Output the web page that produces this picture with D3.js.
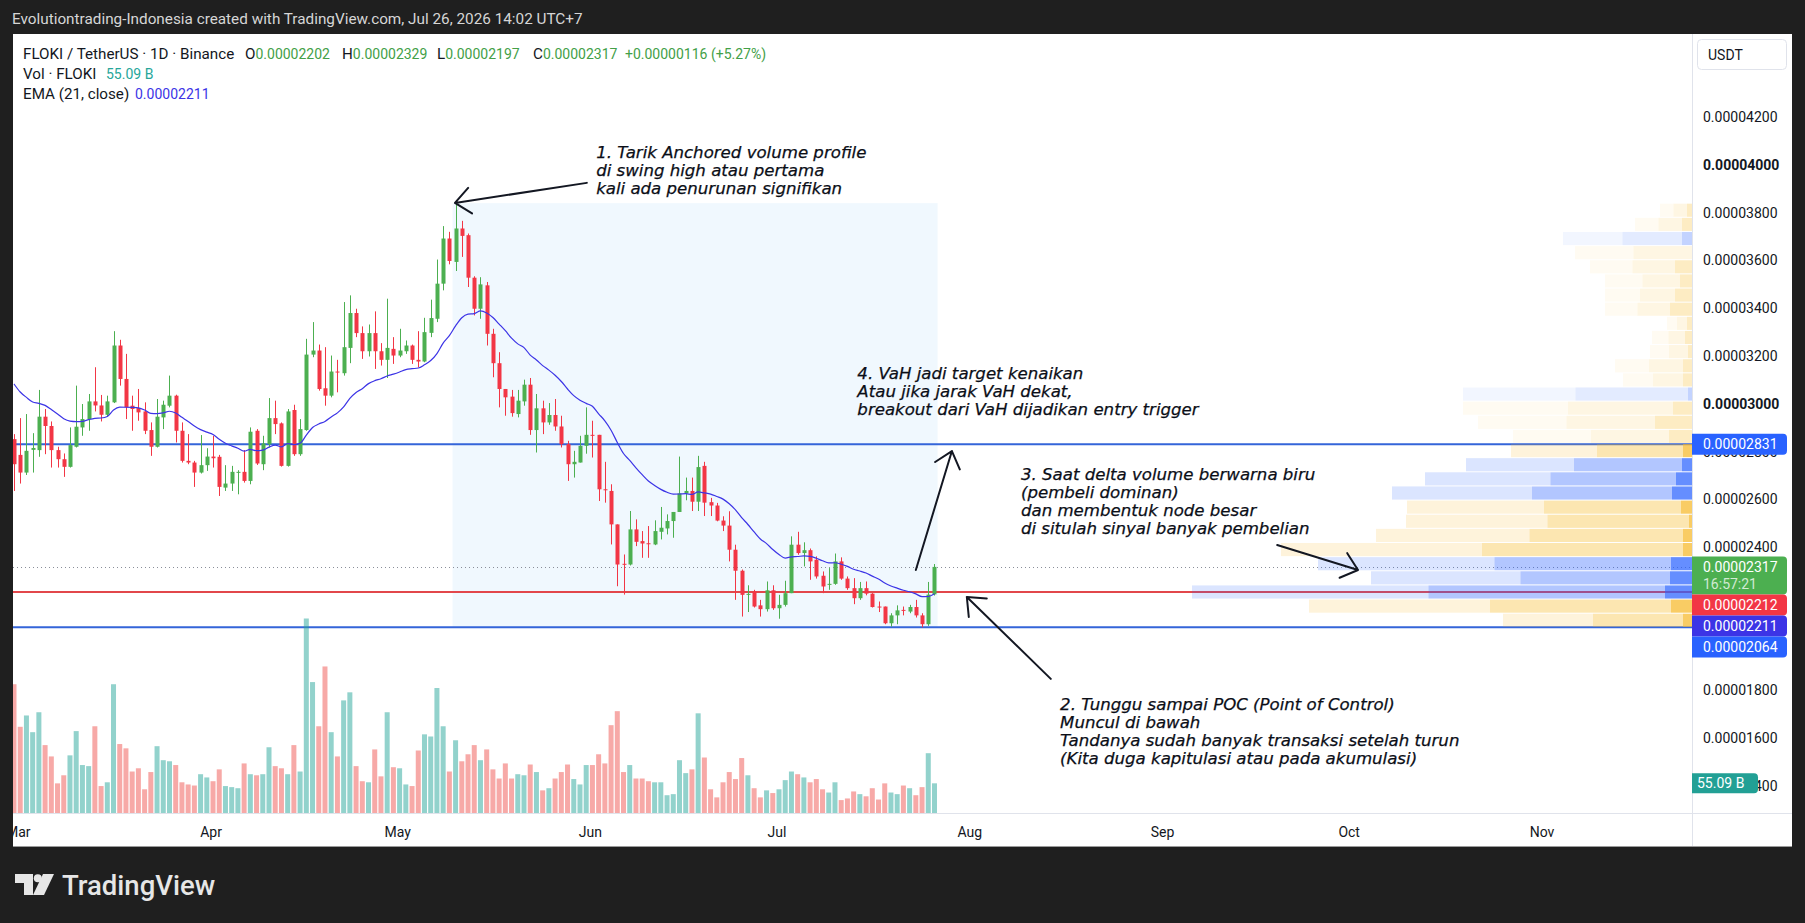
<!DOCTYPE html>
<html>
<head>
<meta charset="utf-8">
<script src="https://cdn.jsdelivr.net/npm/d3@7"></script>
<style>
    html, body { margin: 0; padding: 0; background: #1f1f1f; }
    svg { display: block; }
</style>
</head>
<body>
<svg id="chart"></svg>
<script>
// FLOKI/USDT daily candles, Feb 28 -> Jul 26 2026. Prices in 1e-8 USDT.
const opens = [2852,2786,2712,2807,2806,2946,2907,2806,2768,2736,2820,2901,2936,3010,2993,2954,3006,3244,3104,2992,
    2982,2968,2890,2820,2943,2992,3034,2887,2761,2754,2712,2743,2779,2778,2649,2666,2712,2715,2677,2887,
    2747,2831,2940,2918,2740,2974,2789,2890,3206,3223,3065,3034,3135,3128,3234,3380,3296,3220,3296,3220,
    3184,3230,3202,3220,3244,3184,3177,3297,3356,3503,3692,3594,3734,3706,3528,3398,3496,3293,3170,3062,
    3030,2957,3010,3080,2890,2981,2922,2953,2905,2831,2747,2754,2824,2870,2870,2642,2635,2495,2330,2327,
    2474,2425,2416,2411,2464,2478,2509,2547,2625,2635,2590,2740,2588,2574,2511,2490,2389,2301,2200,2214,
    2156,2140,2219,2144,2158,2207,2410,2375,2387,2347,2280,2242,2246,2340,2268,2228,2186,2228,2205,2151,
    2151,2081,2114,2137,2130,2149,2114,2077,2202];
const highs = [2873,2940,2957,2877,3058,2978,2926,2820,2792,2901,3076,2999,3041,3153,3037,3034,3304,3268,3209,3034,
    3062,3006,2922,3020,3013,3118,3038,2922,2873,2761,2869,2814,2866,2786,2743,2740,2722,2806,2901,2894,
    2866,3024,3013,2922,2978,2996,2936,3272,3342,3248,3237,3202,3184,3426,3454,3398,3324,3332,3387,3254,
    3440,3279,3314,3265,3248,3304,3360,3436,3604,3744,3720,3838,3766,3713,3534,3530,3510,3314,3216,3062,
    3058,3058,3101,3108,3041,3013,3003,3020,2950,2845,2803,2866,2985,2929,2870,2757,2663,2495,2369,2551,
    2516,2467,2488,2512,2568,2537,2547,2779,2691,2691,2782,2757,2606,2585,2529,2550,2410,2306,2240,2221,
    2179,2256,2240,2200,2259,2445,2464,2420,2394,2361,2298,2312,2373,2357,2277,2270,2254,2256,2207,2172,
    2151,2123,2156,2151,2158,2179,2123,2254,2329];
const lows = [2635,2666,2702,2712,2778,2789,2733,2733,2694,2733,2817,2866,2887,2968,2926,2946,3003,3076,2936,2887,
    2929,2873,2782,2817,2894,2985,2838,2754,2747,2652,2708,2719,2733,2614,2635,2635,2621,2670,2663,2744,
    2722,2817,2873,2737,2737,2782,2782,2887,3195,3055,2992,3027,3048,3118,3170,3279,3188,3198,3146,3160,
    3108,3167,3195,3209,3167,3153,3174,3279,3342,3475,3584,3556,3615,3489,3370,3356,3244,3111,2985,2950,
    2946,2943,2992,2870,2796,2873,2912,2887,2817,2677,2691,2754,2791,2775,2593,2586,2411,2236,2201,2323,
    2404,2355,2355,2408,2432,2453,2439,2547,2596,2551,2551,2530,2530,2508,2467,2340,2179,2109,2128,2147,
    2109,2130,2137,2100,2151,2207,2368,2319,2263,2268,2207,2221,2242,2263,2221,2161,2179,2198,2147,2128,
    2077,2067,2077,2114,2123,2105,2064,2070,2197];
const closes = [2747,2712,2803,2815,2946,2907,2806,2768,2736,2827,2904,2936,3010,2993,2954,3010,3244,3104,2985,2978,
    2964,2887,2820,2946,2996,3034,2887,2761,2754,2712,2743,2779,2772,2652,2666,2715,2715,2677,2883,2750,
    2834,2940,2915,2740,2968,2789,2894,3206,3223,3062,3034,3135,3131,3237,3380,3296,3220,3296,3220,3184,
    3234,3202,3223,3244,3184,3177,3300,3359,3503,3692,3598,3734,3703,3528,3398,3500,3293,3170,3062,3027,
    2961,3013,3080,2890,2981,2922,2953,2905,2831,2747,2757,2824,2870,2866,2642,2638,2495,2327,2327,2474,
    2422,2415,2412,2467,2481,2509,2547,2625,2635,2590,2735,2586,2574,2511,2490,2389,2301,2200,2204,2151,
    2140,2219,2144,2158,2207,2410,2375,2387,2340,2277,2235,2246,2340,2268,2228,2186,2228,2205,2149,2147,
    2081,2114,2135,2133,2149,2114,2077,2201,2317];
// volume in billions of FLOKI
const volumes = [239,160,181,150,187,126,105,55,70,107,152,89,87,161,50,57,239,128,120,77,
    83,44,76,124,98,96,89,57,53,51,72,66,59,81,50,48,46,92,72,70,
    72,122,87,83,72,126,77,361,243,161,272,150,105,209,224,87,59,57,118,68,
    187,85,83,53,50,116,146,142,232,161,77,135,96,109,126,98,118,81,64,92,
    64,72,70,90,76,42,46,64,76,90,63,53,89,89,109,92,163,189,76,89,
    64,64,59,57,57,33,35,98,74,81,185,103,44,29,57,76,63,102,70,46,
    29,42,37,44,61,77,72,66,57,63,44,38,57,24,27,40,35,31,46,25,
    55,38,35,51,46,33,48,111,55.09];
const emaSeed = 3083;          // EMA(21) value on the first visible bar
const emaLength = 21;

// anchored volume profile, rows from bottom (low) to top (high)
const vpLow = 2064, vpHigh = 3840;
const vpVolume = [189,383,500,321,374,411,316,286,285,300,267,226,181,179,214,229,229,69,77,42,40,25,87,87,87,102,117,129,57,32];
const vpDelta  = [9,21,27,22,21,9,9,3,11,20,16,10,9,23,37,19,4,9,9,4,7,5,22,17,12,17,0,10,10,5];
const vpSide   = ['s','s','b','b','b','s','s','s','s','b','b','b','s','s','s','s','b','s','s','s','s','s','s','s','s','s','s','b','s','s'];
const vah = 2831, val = 2064, poc = 2212;
const vpAnchor = 71;           // bar index of the swing high

// 2000 and 2200 sit fully behind the price labels, so they are left out
const priceTicks = [1400,1600,1800,2400,2600,2800,3000,3200,3400,3600,3800,4000,4200];
const boldTicks = [3000,4000];
const monthTicks = ['2026-03-01','2026-04-01','2026-05-01','2026-06-01','2026-07-01','2026-08-01','2026-09-01','2026-10-01','2026-11-01'];
const lastClose = 2317, emaLast = 2211;

const annotations = [
    { at: [93.6, 4029], lines: ['1. Tarik Anchored volume profile', 'di swing high atau pertama', 'kali ada penurunan signifikan'] },
    { at: [135.6, 3104], lines: ['4. VaH jadi target kenaikan', 'Atau jika jarak VaH dekat,', 'breakout dari VaH dijadikan entry trigger'] },
    { at: [161.9, 2681], lines: ['3. Saat delta volume berwarna biru', '(pembeli dominan)', 'dan membentuk node besar', 'di situlah sinyal banyak pembelian'] },
    { at: [168.2, 1718], lines: ['2. Tunggu sampai POC (Point of Control)', 'Muncul di bawah', 'Tandanya sudah banyak transaksi setelah turun', '(Kita duga kapitulasi atau pada akumulasi)'] },
];
const arrows = [
    { from: [92.1, 3925], to: [70.9, 3841] },
    { from: [145.0, 2304], to: [150.8, 2802] },
    { from: [203.1, 2409], to: [216.1, 2304] },
    { from: [166.7, 1848], to: [153.2, 2191] },
];

// ---------------------------------------------------------------
const W = 1805, H = 923;
const frame = { left: 13, top: 34, right: 1792, bottom: 847 };
const paneRight = 1692, paneBottom = 813;
const UP = '#4caf50', DOWN = '#f23645';
const EMA_COLOR = '#3c34e6';
const FONT = 'Roboto, "Liberation Sans", sans-serif';
const P = v => v * 1e-8;
const fmt = v => P(v).toFixed(8);

const t0 = Date.UTC(2026, 1, 28);
const dayAt = i => new Date(t0 + i * 864e5);
const dates = closes.map((_, i) => dayAt(i));

const x = d3.scaleUtc().domain([dayAt(0), new Date('2026-11-01')]).range([14, 1544]);
const y = d3.scaleLinear().domain([P(1400), P(4200)]).range([785.9, 117.2]);
const yVol = d3.scaleLinear().domain([0, d3.max(volumes)]).range([paneBottom, 618.5]);
const vpX = d3.scaleLinear().domain([0, d3.max(vpVolume)]).range([0, 500]);
const xi = i => x(dayAt(i));
const yp = v => y(P(v));

const svg = d3.select('#chart').attr('width', W).attr('height', H)
    .style('font-family', FONT);

svg.append('rect').attr('width', W).attr('height', H).attr('fill', '#1f1f1f');
svg.append('text')
    .attr('x', 12).attr('y', 24)
    .attr('font-size', 15.3).attr('fill', '#d6d6d6')
    .text('Evolutiontrading-Indonesia created with TradingView.com, Jul 26, 2026 14:02 UTC+7');

svg.append('rect')
    .attr('x', frame.left).attr('y', frame.top)
    .attr('width', frame.right - frame.left).attr('height', frame.bottom - frame.top)
    .attr('fill', '#fff');

const defs = svg.append('defs');
defs.append('clipPath').attr('id', 'pane')
    .append('rect').attr('x', frame.left).attr('y', frame.top)
    .attr('width', paneRight - frame.left).attr('height', paneBottom - frame.top);
defs.append('clipPath').attr('id', 'timeAxis')
    .append('rect').attr('x', frame.left).attr('y', paneBottom)
    .attr('width', paneRight - frame.left).attr('height', frame.bottom - paneBottom);

const pane = svg.append('g').attr('clip-path', 'url(#pane)');

// anchored VP range box
const lastIdx = closes.length - 1;
const barW = xi(1) - xi(0);
pane.append('rect')
    .attr('x', xi(vpAnchor) - barW / 2).attr('y', yp(vpHigh))
    .attr('width', xi(lastIdx) - xi(vpAnchor) + barW).attr('height', yp(vpLow) - yp(vpHigh))
    .attr('fill', 'rgba(33,150,243,0.065)');

// level lines
[[vah, '#3465d9'], [val, '#3465d9'], [poc, '#e2474b']].forEach(([v, c]) => {
    pane.append('line')
        .attr('x1', frame.left).attr('x2', paneRight)
        .attr('y1', yp(v)).attr('y2', yp(v))
        .attr('stroke', c).attr('stroke-width', 2);
});
pane.append('line')
    .attr('x1', frame.left).attr('x2', paneRight)
    .attr('y1', Math.round(yp(lastClose)) + 0.5).attr('y2', Math.round(yp(lastClose)) + 0.5)
    .attr('stroke', '#8a8e99').attr('stroke-width', 1).attr('stroke-dasharray', '1,3');

// volume profile rows
const rowStep = (vpHigh - vpLow) / vpVolume.length;
const shade = {
    b: [41, 98, 255],
    s: [247, 185, 40],
};
const vpG = pane.append('g');
vpVolume.forEach((vol, i) => {
    const lo = vpLow + i * rowStep, hi = lo + rowStep;
    const inVA = (lo + hi) / 2 <= vah && (lo + hi) / 2 >= val;
    const alphas = inVA ? [0.17, 0.36, 0.72] : [0.06, 0.13, 0.28];
    const xR = paneRight;
    const xL = xR - vpX(vol);
    const xD = xR - vpX(vpDelta[i]);
    const xM = (xL + xD) / 2;
    const y0 = yp(hi) + 0.5, h = yp(lo) - yp(hi) - 1;
    const [r, g, b] = shade[vpSide[i]];
    [[xL, xM], [xM, xD], [xD, xR]].forEach(([a, z], j) => {
        if (z - a <= 0) return;
        vpG.append('rect')
            .attr('x', a).attr('y', y0).attr('width', z - a).attr('height', h)
            .attr('fill', `rgba(${r},${g},${b},${alphas[j]})`);
    });
});

// volume bars
pane.append('g').selectAll('rect')
    .data(volumes)
    .join('rect')
    .attr('x', (_, i) => xi(i) - 2.5)
    .attr('y', d => yVol(d))
    .attr('width', 5)
    .attr('height', d => paneBottom - yVol(d))
    .attr('fill', (_, i) => closes[i] >= opens[i] ? 'rgba(38,166,154,0.5)' : 'rgba(239,83,80,0.5)');

// candles
const candles = pane.append('g').selectAll('g')
    .data(dates)
    .join('g')
    .attr('fill', (_, i) => closes[i] >= opens[i] ? UP : DOWN)
    .attr('stroke', (_, i) => closes[i] >= opens[i] ? UP : DOWN);
candles.append('line')
    .attr('x1', (_, i) => Math.round(xi(i)) + 0.5).attr('x2', (_, i) => Math.round(xi(i)) + 0.5)
    .attr('y1', (_, i) => yp(highs[i])).attr('y2', (_, i) => yp(lows[i]))
    .attr('stroke-width', 1);
candles.append('rect')
    .attr('x', (_, i) => Math.round(xi(i)) - 1.5)
    .attr('y', (_, i) => yp(Math.max(opens[i], closes[i])))
    .attr('width', 4)
    .attr('height', (_, i) => Math.max(1, yp(Math.min(opens[i], closes[i])) - yp(Math.max(opens[i], closes[i]))))
    .attr('stroke', 'none');

// EMA(21, close)
const k = 2 / (emaLength + 1);
const ema = [];
closes.forEach((c, i) => ema.push(i === 0 ? emaSeed : ema[i - 1] + k * (c - ema[i - 1])));
pane.append('path')
    .datum(ema)
    .attr('d', d3.line().x((_, i) => xi(i)).y(d => yp(d)).curve(d3.curveMonotoneX))
    .attr('fill', 'none').attr('stroke', EMA_COLOR).attr('stroke-width', 1.2);

// annotations
const ann = pane.append('g')
    .attr('font-family', '"DejaVu Sans", Verdana, sans-serif')
    .attr('font-style', 'italic').attr('font-size', 16.6).attr('fill', '#0b0e17')
    .attr('stroke', '#0b0e17').attr('stroke-width', 0.25);
annotations.forEach(a => {
    const t = ann.append('text').attr('x', xi(a.at[0])).attr('y', yp(a.at[1]));
    a.lines.forEach((s, j) => t.append('tspan').attr('x', xi(a.at[0])).attr('dy', j ? 17.9 : 0).text(s));
});
function arrowPath(x1, y1, x2, y2) {
    const a = Math.atan2(y1 - y2, x1 - x2), L = 20, s = 0.7;
    return `M${x1},${y1}L${x2},${y2}` +
        `M${x2 + L * Math.cos(a + s)},${y2 + L * Math.sin(a + s)}L${x2},${y2}L${x2 + L * Math.cos(a - s)},${y2 + L * Math.sin(a - s)}`;
}
pane.append('g').selectAll('path')
    .data(arrows)
    .join('path')
    .attr('d', d => arrowPath(xi(d.from[0]), yp(d.from[1]), xi(d.to[0]), yp(d.to[1])))
    .attr('fill', 'none').attr('stroke', '#131722').attr('stroke-width', 2)
    .attr('stroke-linecap', 'round').attr('stroke-linejoin', 'round');

// legend: labels a little larger than the numbers, as in the original font
const leg = svg.append('g').attr('font-size', 15.2).attr('fill', '#131722');
const NUM = 14;
leg.append('text').attr('x', 23).attr('y', 59).text('FLOKI / TetherUS · 1D · Binance');
const last = lastIdx;
const ohlc = [['O', opens[last], 245], ['H', highs[last], 342], ['L', lows[last], 437], ['C', closes[last], 533]];
ohlc.forEach(([lab, v, px]) => {
    const t = leg.append('text').attr('x', px).attr('y', 59);
    t.append('tspan').text(lab);
    t.append('tspan').attr('fill', '#43a047').attr('font-size', NUM).text(fmt(v));
});
const chg = closes[last] - closes[last - 1];
leg.append('text').attr('x', 625).attr('y', 59).attr('fill', '#43a047').attr('font-size', NUM)
    .text(`+${fmt(chg)} (+${(chg / closes[last - 1] * 100).toFixed(2)}%)`);
leg.append('text').attr('x', 23).attr('y', 79).text('Vol · FLOKI');
leg.append('text').attr('x', 106).attr('y', 79).attr('fill', '#26a69a').attr('font-size', NUM)
    .text(`${volumes[last].toFixed(2)} B`);
leg.append('text').attr('x', 23).attr('y', 99).text(`EMA (${emaLength}, close)`);
leg.append('text').attr('x', 135).attr('y', 99).attr('fill', EMA_COLOR).attr('font-size', NUM).text(fmt(emaLast));

// axes separators
svg.append('line').attr('x1', paneRight + 0.5).attr('x2', paneRight + 0.5)
    .attr('y1', frame.top).attr('y2', frame.bottom).attr('stroke', '#e0e3eb');
svg.append('line').attr('x1', frame.left).attr('x2', frame.right)
    .attr('y1', paneBottom + 0.5).attr('y2', paneBottom + 0.5).attr('stroke', '#e0e3eb');
svg.append('line').attr('x1', frame.left).attr('x2', frame.right)
    .attr('y1', frame.bottom - 0.5).attr('y2', frame.bottom - 0.5).attr('stroke', '#9a9a9a');

// price axis ticks
const yAxis = svg.append('g').attr('font-size', 14).attr('fill', '#131722');
yAxis.selectAll('text')
    .data(priceTicks)
    .join('text')
    .attr('x', 1703).attr('y', d => yp(d) + 5)
    .attr('font-weight', d => boldTicks.includes(d) ? 'bold' : null)
    .text(d => fmt(d));

// USDT box
svg.append('rect').attr('x', 1697.5).attr('y', 39.5).attr('width', 89).attr('height', 30).attr('rx', 4)
    .attr('fill', '#fff').attr('stroke', '#e0e3eb');
svg.append('text').attr('x', 1708).attr('y', 60).attr('font-size', 14).attr('fill', '#131722').text('USDT');

// price labels, stacked downward when they collide
const labels = [
    { v: vah, fill: '#2962ff' },
    { v: lastClose, fill: UP, sub: '16:57:21' },
    { v: poc, fill: DOWN },
    { v: emaLast, fill: EMA_COLOR },
    { v: val, fill: '#2962ff' },
].sort((a, b) => yp(a.v) - yp(b.v));
let prevBottom = -Infinity;
labels.forEach(l => {
    const h = l.sub ? 38 : 21;
    const top = Math.max(yp(l.v) - 10.5, prevBottom);
    prevBottom = top + h;
    svg.append('path')
        .attr('d', `M${paneRight},${top}H${1783}a4,4 0 0 1 4,4V${top + h - 4}a4,4 0 0 1 -4,4H${paneRight}Z`)
        .attr('fill', l.fill);
    svg.append('text').attr('x', 1703).attr('y', top + 15.5)
        .attr('font-size', 14).attr('fill', '#fff').text(fmt(l.v));
    if (l.sub) svg.append('text').attr('x', 1703).attr('y', top + 33)
        .attr('font-size', 14).attr('fill', 'rgba(255,255,255,0.75)').text(l.sub);
});
const vy = yVol(volumes[last]);
svg.append('path')
    .attr('d', `M${paneRight},${vy - 10}H${1754}a4,4 0 0 1 4,4V${vy + 6}a4,4 0 0 1 -4,4H${paneRight}Z`)
    .attr('fill', '#22a095');
svg.append('text').attr('x', 1697).attr('y', vy + 5).attr('font-size', 14).attr('fill', '#fff')
    .text(`${volumes[last].toFixed(2)} B`);

// time axis
svg.append('g').attr('clip-path', 'url(#timeAxis)')
    .attr('font-size', 14).attr('fill', '#131722').attr('text-anchor', 'middle')
    .selectAll('text')
    .data(monthTicks.map(s => new Date(s)))
    .join('text')
    .attr('x', d => x(d) - 2).attr('y', 837)
    .text(d3.utcFormat('%b'));

// TradingView logo
const logo = svg.append('g').attr('fill', '#e6e6e6');
logo.append('path').attr('d', 'M15,874H33V895H24V883H15Z');
logo.append('circle').attr('cx', 37.8).attr('cy', 878.2).attr('r', 4);
logo.append('path').attr('d', 'M43,874H54L44,895H33Z');
logo.append('text').attr('x', 62).attr('y', 894.5).attr('font-size', 27.5).attr('font-weight', 500)
    .text('TradingView');
</script>
</body>
</html>
